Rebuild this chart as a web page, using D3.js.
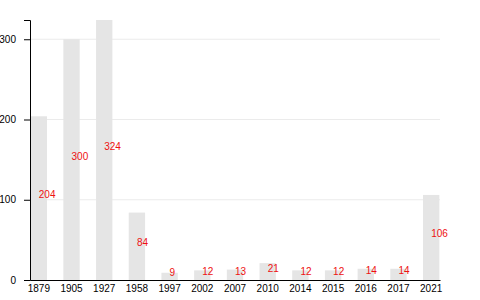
<!DOCTYPE html>
<html><head><meta charset="utf-8">
<script src="https://cdn.jsdelivr.net/npm/d3@7"></script>
<style>body{margin:0;background:#fff;} svg{display:block;font-family:"Liberation Sans",Arial,sans-serif;}</style>
</head><body><svg id="c" width="480" height="300"></svg>
<script>
const categories = ["1879","1905","1927","1958","1997","2002","2007","2010","2014","2015","2016","2017","2021"];
const values = [204,300,324,84,9,12,13,21,12,12,14,14,106];
const yTicks = [0,100,200,300];

const svg = d3.select("#c");
const mLeft = 30, mRight = 440, mTop = 20, mBottom = 280;
const x = d3.scaleBand().domain(categories).range([mLeft, mRight]).paddingInner(0.5).paddingOuter(0.02);
const y = d3.scaleLinear().domain([0, d3.max(values)]).range([mBottom, mTop]);

svg.append("g").selectAll("line").data(yTicks.filter(t => t > 0)).join("line")
  .attr("x1", mLeft).attr("x2", mRight).attr("y1", d => y(d)).attr("y2", d => y(d))
  .attr("stroke", "#ebebeb").attr("stroke-width", 1);

const data = categories.map((c, i) => ({c, v: values[i]}));
svg.append("g").selectAll("rect").data(data).join("rect")
  .attr("x", d => x(d.c)).attr("width", x.bandwidth())
  .attr("y", d => y(d.v)).attr("height", d => mBottom - y(d.v))
  .attr("fill", "#e5e5e5");

svg.append("g").selectAll("text").data(data).join("text")
  .attr("x", d => x(d.c) + x.bandwidth() / 2)
  .attr("y", d => (y(d.v) + mBottom) / 2)
  .attr("fill", "#ee1111").attr("font-size", 10)
  .text(d => d.v);

const xa = svg.append("g").attr("transform", `translate(0,${mBottom})`)
  .call(d3.axisBottom(x).tickSize(0).tickPadding(5));
xa.select(".domain").attr("stroke", "#000");
xa.selectAll("text").attr("font-size", 10).attr("fill", "#000");

const ya = svg.append("g").attr("transform", `translate(${mLeft},0)`)
  .call(d3.axisLeft(y).tickValues(yTicks).tickSizeOuter(0).tickSize(6).tickPadding(8));
ya.selectAll("text").attr("font-size", 10).attr("fill", "#000");
svg.selectAll(".tick text").attr("font-family", null);
svg.selectAll("g").attr("font-family", null);
</script></body></html>
